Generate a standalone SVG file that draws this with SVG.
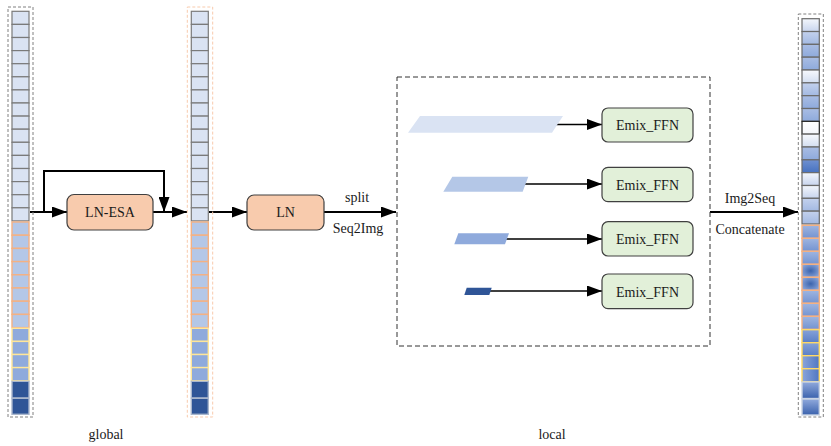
<svg xmlns="http://www.w3.org/2000/svg" xmlns:xlink="http://www.w3.org/1999/xlink" width="831" height="446" viewBox="0 0 831 446" font-family="'Liberation Serif', 'DejaVu Serif', serif">
<style>
text{font-family:'Liberation Serif','DejaVu Serif',serif;font-size:14px;fill:#1a1a1a}
.c{text-anchor:middle}
.lt{fill:#dae3f3;stroke:#7a7a7a;stroke-width:1.2}
.or{fill:#b4c7e7;stroke:#f4b183;stroke-width:1.4}
.ye{fill:#8faadc;stroke:#ffe699;stroke-width:1.4}
.dk{fill:#2f5597;stroke:#a9b6cc;stroke-width:1.4}
.box{stroke:#404040;stroke-width:1.2}
.esa{fill:#f8cbad}
.ffn{fill:#e2f0d9}
.dash{fill:none;stroke:#808080;stroke-width:1;stroke-dasharray:3 2}
.dasho{fill:none;stroke:#f8cbad;stroke-width:1;stroke-dasharray:3 2}
.ln{fill:none;stroke:#000;stroke-width:2;marker-end:url(#ah)}
.ln2{fill:none;stroke:#000;stroke-width:1.6;marker-end:url(#ah)}
.rc{stroke:#6a6a6a;stroke-width:1.2}
.ro{stroke:#f4b183;stroke-width:1.4}
.ry{stroke:#ffd966;stroke-width:1.4}
.rd{stroke:#c9d3e3;stroke-width:1.4}
</style>
<defs>
<marker id="ah" markerUnits="userSpaceOnUse" markerWidth="15" markerHeight="11" refX="15" refY="5.5" orient="auto">
<path d="M0,0 L15,5.5 L0,11 z" fill="#000"/>
</marker>
<linearGradient id="g1" x1="0" y1="0" x2="0" y2="1"><stop offset="0" stop-color="#f3f6fc"/><stop offset="1" stop-color="#c8d5ee"/></linearGradient>
<linearGradient id="g2" x1="0" y1="0" x2="0" y2="1"><stop offset="0" stop-color="#c3d1ed"/><stop offset="1" stop-color="#a3b9e2"/></linearGradient>
<linearGradient id="g3" x1="0" y1="0" x2="0" y2="1"><stop offset="0" stop-color="#a9bde4"/><stop offset="1" stop-color="#8eaadc"/></linearGradient>
<linearGradient id="g4" x1="0" y1="0" x2="0" y2="1"><stop offset="0" stop-color="#ffffff"/><stop offset="1" stop-color="#f4f6fb"/></linearGradient>
<linearGradient id="g5" x1="0" y1="0" x2="0" y2="1"><stop offset="0" stop-color="#f7f9fd"/><stop offset="1" stop-color="#d3def1"/></linearGradient>
<linearGradient id="g6" x1="0" y1="0" x2="0" y2="1"><stop offset="0" stop-color="#6f90d0"/><stop offset="1" stop-color="#4772c0"/></linearGradient>
<linearGradient id="go" x1="0" y1="0" x2="0" y2="1"><stop offset="0" stop-color="#9fb5e0"/><stop offset="1" stop-color="#7393d1"/></linearGradient>
<radialGradient id="gr" cx="0.5" cy="0.5" r="0.6"><stop offset="0" stop-color="#3b63ad"/><stop offset="1" stop-color="#8aa5da"/></radialGradient>
<linearGradient id="gy" x1="0" y1="0" x2="1" y2="0"><stop offset="0" stop-color="#8aa5da"/><stop offset="1" stop-color="#4f76c2"/></linearGradient>
<linearGradient id="gy2" x1="0" y1="0" x2="0" y2="1"><stop offset="0" stop-color="#86a2d8"/><stop offset="1" stop-color="#5a7fc6"/></linearGradient>
<linearGradient id="gd" x1="0" y1="0" x2="0" y2="1"><stop offset="0" stop-color="#90a9dc"/><stop offset="1" stop-color="#3a62ad"/></linearGradient>
<g id="cells">
<rect class="lt" x="12" y="11.3" width="17" height="13.1"/>
<rect class="lt" x="12" y="24.4" width="17" height="13.1"/>
<rect class="lt" x="12" y="37.5" width="17" height="13.1"/>
<rect class="lt" x="12" y="50.6" width="17" height="13.1"/>
<rect class="lt" x="12" y="63.7" width="17" height="13.1"/>
<rect class="lt" x="12" y="76.8" width="17" height="13.1"/>
<rect class="lt" x="12" y="89.9" width="17" height="13.1"/>
<rect class="lt" x="12" y="103" width="17" height="13.1"/>
<rect class="lt" x="12" y="116.1" width="17" height="13.1"/>
<rect class="lt" x="12" y="129.2" width="17" height="13.1"/>
<rect class="lt" x="12" y="142.3" width="17" height="13.1"/>
<rect class="lt" x="12" y="155.4" width="17" height="13.1"/>
<rect class="lt" x="12" y="168.5" width="17" height="13.1"/>
<rect class="lt" x="12" y="181.6" width="17" height="13.1"/>
<rect class="lt" x="12" y="194.7" width="17" height="13.1"/>
<rect class="lt" x="12" y="207.8" width="17" height="13.1"/>
<rect class="or" x="12" y="222" width="17" height="13.2"/>
<rect class="or" x="12" y="235.2" width="17" height="13.2"/>
<rect class="or" x="12" y="248.4" width="17" height="13.2"/>
<rect class="or" x="12" y="261.6" width="17" height="13.2"/>
<rect class="or" x="12" y="274.8" width="17" height="13.2"/>
<rect class="or" x="12" y="288" width="17" height="13.2"/>
<rect class="or" x="12" y="301.2" width="17" height="13.2"/>
<rect class="or" x="12" y="314.4" width="17" height="13.2"/>
<rect class="ye" x="12" y="328.3" width="17" height="13.1"/>
<rect class="ye" x="12" y="341.4" width="17" height="13.1"/>
<rect class="ye" x="12" y="354.5" width="17" height="13.1"/>
<rect class="ye" x="12" y="367.6" width="17" height="13.1"/>
<rect class="dk" x="12" y="381.3" width="17" height="16.7"/>
<rect class="dk" x="12" y="398.3" width="17" height="16"/>
</g>
</defs>

<g id="connectors">
<path class="ln" d="M30,212 L67,212"/>
<path class="ln" d="M44,212 L44,171 L164,171 L164,212"/>
<path class="ln" d="M153,212 L187,212"/>
<path class="ln" d="M209,212 L247,212"/>
<path class="ln" d="M324,212 L396,212"/>
<path class="ln2" d="M555,124.5 L602,124.5"/>
<path class="ln2" d="M522,184 L602,184"/>
<path class="ln2" d="M505,239 L602,239"/>
<path class="ln2" d="M489,291 L602,291"/>
<path class="ln" d="M710,212 L798,212"/>
</g>

<g id="seq-global-in">
<rect class="dash" x="8" y="7" width="25" height="410"/>
<use xlink:href="#cells"/>
</g>

<g id="ln-esa">
<rect class="box esa" x="67" y="194.5" width="86" height="35.5" rx="7"/>
<text class="c" x="110" y="217">LN-ESA</text>
</g>

<g id="seq-mid">
<rect class="dasho" x="187.3" y="7" width="25.4" height="410"/>
<use xlink:href="#cells" transform="translate(179.3,0)"/>
</g>

<g id="ln">
<rect class="box esa" x="247" y="195" width="77" height="35" rx="7"/>
<text class="c" x="285.5" y="217">LN</text>
</g>

<g id="edge-labels">
<text class="c" x="357" y="202">split</text>
<text class="c" x="358" y="233">Seq2Img</text>
<text class="c" x="750" y="203">Img2Seq</text>
<text class="c" x="750" y="234">Concatenate</text>
</g>

<g id="local-box">
<rect x="397" y="77" width="313" height="269" fill="none" stroke="#333" stroke-width="1" stroke-dasharray="5 3"/>
</g>

<g id="patch1"><polygon points="420,116 563,116 552,132.7 408,132.7" fill="#dae3f3"/></g>
<g id="patch2"><polygon points="452.3,176.7 528.3,176.7 522.7,191.7 443.3,191.7" fill="#b4c7e7"/></g>
<g id="patch3"><polygon points="458.3,233.3 509,233.3 505,244.3 454.3,244.3" fill="#8faadc"/></g>
<g id="patch4"><polygon points="466.7,287.7 491.7,287.7 489.3,295 464.3,295" fill="#2f5597"/></g>

<g id="ffn1"><rect class="box ffn" x="602" y="108" width="91" height="34" rx="6"/><text class="c" x="647.5" y="130">Emix_FFN</text></g>
<g id="ffn2"><rect class="box ffn" x="602" y="167.3" width="91" height="34.4" rx="6"/><text class="c" x="647.5" y="189.5">Emix_FFN</text></g>
<g id="ffn3"><rect class="box ffn" x="602" y="221.7" width="91" height="34.3" rx="6"/><text class="c" x="647.5" y="244">Emix_FFN</text></g>
<g id="ffn4"><rect class="box ffn" x="602" y="274" width="91" height="34.7" rx="6"/><text class="c" x="647.5" y="296.5">Emix_FFN</text></g>

<g id="seq-out">
<rect class="dash" x="798.3" y="14" width="25" height="403"/>
<rect class="rc" fill="url(#g1)" x="802" y="18.7" width="17.3" height="12.83"/>
<rect class="rc" fill="url(#g2)" x="802" y="31.53" width="17.3" height="12.83"/>
<rect class="rc" fill="url(#g3)" x="802" y="44.36" width="17.3" height="12.83"/>
<rect class="rc" fill="url(#g3)" x="802" y="57.19" width="17.3" height="12.83"/>
<rect class="rc" fill="url(#g5)" x="802" y="70.02" width="17.3" height="12.83"/>
<rect class="rc" fill="url(#g2)" x="802" y="82.85" width="17.3" height="12.83"/>
<rect class="rc" fill="url(#g3)" x="802" y="95.68" width="17.3" height="12.83"/>
<rect class="rc" fill="url(#g3)" x="802" y="108.51" width="17.3" height="12.83"/>
<rect fill="url(#g4)" stroke="#222" stroke-width="1.2" x="802" y="121.34" width="17.3" height="12.83"/>
<rect class="rc" fill="url(#g5)" x="802" y="134.17" width="17.3" height="12.83"/>
<rect class="rc" fill="url(#g3)" x="802" y="147" width="17.3" height="12.83"/>
<rect class="rc" fill="url(#g6)" x="802" y="159.83" width="17.3" height="12.83"/>
<rect class="rc" fill="url(#g1)" x="802" y="172.66" width="17.3" height="12.83"/>
<rect class="rc" fill="url(#g1)" x="802" y="185.49" width="17.3" height="12.83"/>
<rect class="rc" fill="url(#g2)" x="802" y="198.32" width="17.3" height="12.83"/>
<rect class="rc" fill="url(#g2)" x="802" y="211.15" width="17.3" height="12.83"/>
<rect class="ro" fill="url(#go)" x="802" y="225.3" width="17.3" height="13"/>
<rect class="ro" fill="url(#go)" x="802" y="238.3" width="17.3" height="13"/>
<rect class="ro" fill="url(#go)" x="802" y="251.3" width="17.3" height="13"/>
<rect class="ro" fill="url(#gr)" x="802" y="264.3" width="17.3" height="13"/>
<rect class="ro" fill="url(#gr)" x="802" y="277.3" width="17.3" height="13"/>
<rect class="ro" fill="url(#go)" x="802" y="290.3" width="17.3" height="13"/>
<rect class="ro" fill="url(#go)" x="802" y="303.3" width="17.3" height="13"/>
<rect class="ro" fill="url(#go)" x="802" y="316.3" width="17.3" height="13"/>
<rect class="ry" fill="url(#gy2)" x="802" y="329.7" width="17.3" height="13"/>
<rect class="ry" fill="url(#gy2)" x="802" y="342.7" width="17.3" height="13"/>
<rect class="ry" fill="url(#gy)" x="802" y="355.7" width="17.3" height="13"/>
<rect class="ry" fill="url(#gy)" x="802" y="368.7" width="17.3" height="13"/>
<rect class="rd" fill="url(#gd)" x="802" y="382" width="17.3" height="16.5"/>
<rect class="rd" fill="url(#gd)" x="802" y="399" width="17.3" height="16"/>
</g>

<g id="captions">
<text class="c" x="106" y="439">global</text>
<text class="c" x="552" y="439">local</text>
</g>
</svg>
